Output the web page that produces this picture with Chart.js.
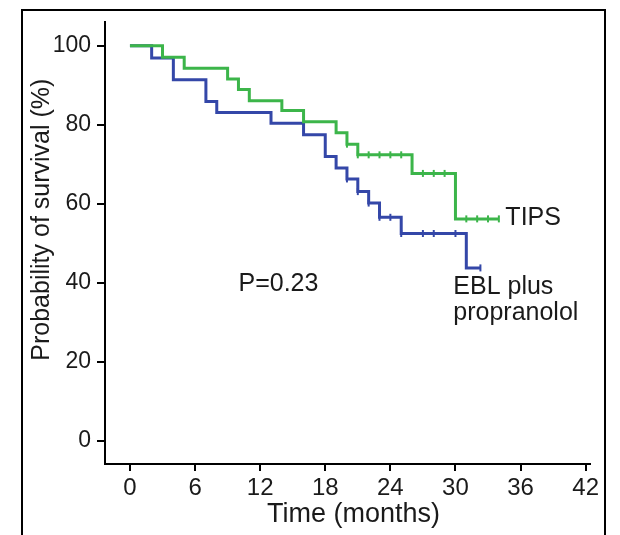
<!DOCTYPE html>
<html>
<head>
<meta charset="utf-8">
<script src="https://cdn.jsdelivr.net/npm/chart.js@4/dist/chart.umd.min.js"></script>
<style>
  html, body { margin: 0; padding: 0; background: #fff; }
  #wrap { position: relative; width: 620px; height: 535px; overflow: hidden; }
  #frame { position: absolute; left: 21px; top: 9px; width: 581px; height: 600px; border: 2px solid #000; }
  #chart { position: absolute; left: 0; top: 0; }
</style>
</head>
<body>
<div id="wrap">
  <div id="frame"></div>
  <canvas id="chart" width="620" height="535"></canvas>
</div>
<script>
// Kaplan-Meier steps (months, % surviving)
const tipsMonths = [0, 3, 5, 9, 10, 11, 14, 16, 19, 20, 21, 26, 30, 34];
const tipsSurvival = [100, 97.1, 94.3, 91.6, 88.9, 86.1, 83.6, 80.8, 78.0, 75.1, 72.4, 67.7, 56.2, 56.2];
const tipsCensorMonths = [20, 21, 22, 23, 24, 25, 27, 28, 29, 31, 32, 33, 34];
const tipsCensorSurvival = [75.1, 72.4, 72.4, 72.4, 72.4, 72.4, 67.7, 67.7, 67.7, 56.2, 56.2, 56.2, 56.2];

const eblMonths = [0, 2, 4, 7, 8, 13, 16, 18, 19, 20, 21, 22, 23, 25, 31, 32.3];
const eblSurvival = [100, 96.9, 91.4, 85.9, 83.1, 80.4, 77.5, 72.0, 69.1, 66.3, 63.1, 60.2, 56.6, 52.5, 43.8, 43.8];
const eblCensorMonths = [20, 21, 22, 23, 24, 25, 27, 28, 30, 32.3];
const eblCensorSurvival = [66.3, 63.1, 60.2, 56.6, 56.6, 52.5, 52.5, 52.5, 52.5, 43.8];

const xTicks = [0, 6, 12, 18, 24, 30, 36, 42];
const yTicks = [0, 20, 40, 60, 80, 100];

const GREEN = '#3cb54a';
const BLUE = '#3447a8';
const TEXT = '#1a1a1a';
const FONT = '"Liberation Sans", Arial, sans-serif';

function points(xs, ys) {
  return xs.map((x, i) => ({ x: x, y: ys[i] }));
}

// text labels placed in data coordinates
const labels = [
  { text: 'TIPS', x: 34.6, y: 56.5 },
  { text: 'P=0.23', x: 10.0, y: 39.6 },
  { text: 'EBL plus', x: 29.8, y: 39.0 },
  { text: 'propranolol', x: 29.8, y: 32.4 }
];

const labelPlugin = {
  id: 'labels',
  afterDatasetsDraw(chart) {
    const ctx = chart.ctx;
    const xs = chart.scales.x, ys = chart.scales.y;
    ctx.save();
    ctx.font = '25px ' + FONT;
    ctx.fillStyle = TEXT;
    ctx.textAlign = 'left';
    ctx.textBaseline = 'middle';
    labels.forEach(l => {
      ctx.fillText(l.text, xs.getPixelForValue(l.x), ys.getPixelForValue(l.y));
    });
    // x axis title, a bit right of the axis middle
    ctx.textAlign = 'center';
    ctx.font = '27px ' + FONT;
    ctx.fillText('Time (months)', xs.getPixelForValue(20.6), 515);
    // y axis title, sits a little above the middle of the axis
    ctx.translate(42, ys.getPixelForValue(56));
    ctx.rotate(-Math.PI / 2);
    ctx.font = '25px ' + FONT;
    ctx.fillText('Probability of survival (%)', 0, 0);
    ctx.restore();
  }
};

const stepStyle = { stepped: true, borderWidth: 3, pointRadius: 0, fill: false, tension: 0 };
const censorStyle = { showLine: false, pointStyle: 'line', rotation: 90, pointRadius: 3.5, pointBorderWidth: 2 };

new Chart(document.getElementById('chart'), {
  type: 'line',
  data: {
    datasets: [
      Object.assign({ label: 'TIPS', data: points(tipsMonths, tipsSurvival), borderColor: GREEN }, stepStyle),
      Object.assign({ label: 'EBL plus propranolol', data: points(eblMonths, eblSurvival), borderColor: BLUE }, stepStyle),
      Object.assign({ label: 'TIPS censored', data: points(tipsCensorMonths, tipsCensorSurvival), borderColor: GREEN, pointBorderColor: GREEN }, censorStyle),
      Object.assign({ label: 'EBL censored', data: points(eblCensorMonths, eblCensorSurvival), borderColor: BLUE, pointBorderColor: BLUE }, censorStyle)
    ]
  },
  options: {
    responsive: false,
    animation: false,
    layout: { padding: { left: 0, top: 22, right: 30, bottom: 0 } },
    plugins: { legend: { display: false }, tooltip: { enabled: false } },
    scales: {
      x: {
        type: 'linear',
        min: -2.3,
        max: 42.4,
        afterBuildTicks: s => { s.ticks = xTicks.map(v => ({ value: v })); },
        afterFit: s => { s.height = 71; },
        grid: { drawOnChartArea: false, drawTicks: true, tickLength: 7, color: '#000', lineWidth: 2 },
        border: { color: '#000', width: 2 },
        ticks: { color: TEXT, font: { family: FONT, size: 24 }, padding: 3, maxRotation: 0 }
      },
      y: {
        type: 'linear',
        min: -5.8,
        max: 106,
        afterBuildTicks: s => { s.ticks = yTicks.map(v => ({ value: v })); },
        afterFit: s => { s.width = 105; },
        grid: { drawOnChartArea: false, drawTicks: true, tickLength: 8, color: '#000', lineWidth: 2 },
        border: { color: '#000', width: 2 },
        ticks: { color: TEXT, font: { family: FONT, size: 23 }, padding: 6 }
      }
    }
  },
  plugins: [labelPlugin]
});
</script>
</body>
</html>
